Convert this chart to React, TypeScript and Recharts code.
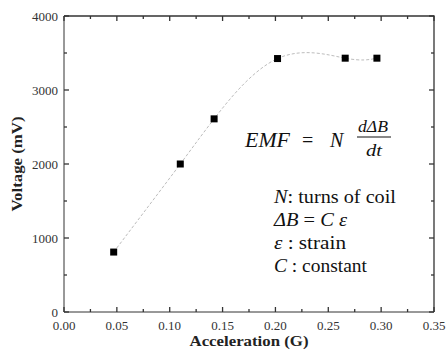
import { ComposedChart, Line, Scatter, XAxis, YAxis } from 'recharts'

const acceleration = [0.047, 0.11, 0.142, 0.202, 0.266, 0.296]
const voltage = [810, 2000, 2610, 3425, 3430, 3430]

const xTicks = [0, 0.025, 0.05, 0.075, 0.1, 0.125, 0.15, 0.175, 0.2, 0.225, 0.25, 0.275, 0.3, 0.325, 0.35]
const yTicks = [0, 500, 1000, 1500, 2000, 2500, 3000, 3500, 4000]

const points = acceleration.map((x, i) => ({ x, y: voltage[i] }))

const FONT = '"Liberation Serif", "DejaVu Serif", serif'
const FRAME = '#333'

// plot box
const W = 447
const H = 358
const LEFT = 64
const TOP = 16
const RIGHT = 434
const BOTTOM = 312

const majorX = (v: number) => Math.round(v * 1000) % 50 === 0
const majorY = (v: number) => Math.round(v) % 1000 === 0

const BottomTick = ({ x, y, payload }: any) => (
  <g>
    <line x1={x} x2={x} y1={y} y2={y - (majorX(payload.value) ? 5 : 3)} stroke={FRAME} strokeWidth={1.3} />
    {majorX(payload.value) && (
      <text x={x} y={y + 18} textAnchor="middle" fontSize={13} style={{ fontFamily: FONT }} fill="#333">
        {payload.value.toFixed(2)}
      </text>
    )}
  </g>
)

const LeftTick = ({ x, y, payload }: any) => (
  <g>
    <line x1={x} x2={x + (majorY(payload.value) ? 5 : 3)} y1={y} y2={y} stroke={FRAME} strokeWidth={1.3} />
    {majorY(payload.value) && (
      <text x={x - 6} y={y + 4.5} textAnchor="end" fontSize={13} style={{ fontFamily: FONT }} fill="#333">
        {payload.value}
      </text>
    )}
  </g>
)

const Square = ({ cx, cy }: any) => <rect x={cx - 3.5} y={cy - 3.5} width={7} height={7} fill="#000" />

// top / right mirror ticks of the closed frame
const topX = (v: number) => LEFT + (v / 0.35) * (RIGHT - LEFT)
const rightY = (v: number) => BOTTOM - (v / 4000) * (BOTTOM - TOP)

export default function App() {
  return (
    <div style={{ position: 'absolute', left: 0, top: 0, width: W, height: H, background: '#fff' }}>
      <ComposedChart
        width={W}
        height={H}
        data={points}
        margin={{ top: TOP, right: W - RIGHT, bottom: 0, left: 0 }}
      >
        <XAxis
          dataKey="x"
          type="number"
          domain={[0, 0.35]}
          ticks={xTicks}
          interval={0}
          height={H - BOTTOM}
          tickSize={0}
          tickMargin={0}
          tickLine={false}
          tick={BottomTick}
          stroke={FRAME}
        />
        <YAxis
          type="number"
          domain={[0, 4000]}
          ticks={yTicks}
          interval={0}
          width={LEFT}
          tickSize={0}
          tickMargin={0}
          tickLine={false}
          tick={LeftTick}
          stroke={FRAME}
        />
        <Line
          type="natural"
          dataKey="y"
          stroke="#bdbdbd"
          strokeWidth={1}
          strokeDasharray="3 2"
          dot={false}
          activeDot={false}
          isAnimationActive={false}
        />
        <Scatter dataKey="y" shape={Square} isAnimationActive={false} />
      </ComposedChart>

      <svg
        width={W}
        height={H}
        style={{ position: 'absolute', left: 0, top: 0, pointerEvents: 'none', fontFamily: FONT }}
      >
        {/* closed frame */}
        <polyline
          points={`${LEFT},${TOP} ${RIGHT},${TOP} ${RIGHT},${BOTTOM}`}
          fill="none"
          stroke={FRAME}
          strokeWidth={1.3}
        />
        {xTicks.map((v) => (
          <line key={`t${v}`} x1={topX(v)} x2={topX(v)} y1={TOP} y2={TOP + (majorX(v) ? 5 : 3)} stroke={FRAME} strokeWidth={1.3} />
        ))}
        {yTicks.map((v) => (
          <line key={`r${v}`} x1={RIGHT} x2={RIGHT - (majorY(v) ? 5 : 3)} y1={rightY(v)} y2={rightY(v)} stroke={FRAME} strokeWidth={1.3} />
        ))}

        {/* axis titles */}
        <text
          transform="translate(22,164) rotate(-90)"
          textAnchor="middle"
          fontSize={15}
          fontWeight="bold"
          fill="#222"
          style={{ fontFamily: FONT }}
          textLength={95}
          lengthAdjust="spacingAndGlyphs"
        >
          Voltage (mV)
        </text>
        <text
          x={249}
          y={346}
          textAnchor="middle"
          fontSize={15}
          fontWeight="bold"
          fill="#222"
          style={{ fontFamily: FONT }}
          textLength={119}
          lengthAdjust="spacingAndGlyphs"
        >
          Acceleration (G)
        </text>

        {/* equation */}
        <g fill="#111" style={{ fontFamily: FONT }}>
          <text x={245} y={147} fontSize={20} fontStyle="italic" textLength={45} lengthAdjust="spacingAndGlyphs">EMF</text>
          <text x={302} y={147} fontSize={20}>=</text>
          <text x={330} y={147} fontSize={20} fontStyle="italic">N</text>
          <text x={358} y={132} fontSize={16} fontStyle="italic" textLength={30} lengthAdjust="spacingAndGlyphs">dΔB</text>
          <line x1={357} x2={391} y1={137} y2={137} stroke="#111" strokeWidth={1.2} />
          <text x={366} y={156} fontSize={16} fontStyle="italic" textLength={16} lengthAdjust="spacingAndGlyphs">dt</text>
        </g>

        {/* notes */}
        <g fill="#111" fontSize={18} style={{ fontFamily: FONT }}>
          <text x={274} y={203} textLength={122} lengthAdjust="spacingAndGlyphs">
            <tspan fontStyle="italic">N</tspan>: turns of coil
          </text>
          <text x={274} y={226} textLength={73} lengthAdjust="spacingAndGlyphs">
            <tspan fontStyle="italic">ΔB</tspan> = <tspan fontStyle="italic">C ε</tspan>
          </text>
          <text x={274} y={249} textLength={72} lengthAdjust="spacingAndGlyphs">
            <tspan fontStyle="italic">ε</tspan>  : strain
          </text>
          <text x={274} y={272} textLength={93} lengthAdjust="spacingAndGlyphs">
            <tspan fontStyle="italic">C</tspan> : constant
          </text>
        </g>
      </svg>
    </div>
  )
}
